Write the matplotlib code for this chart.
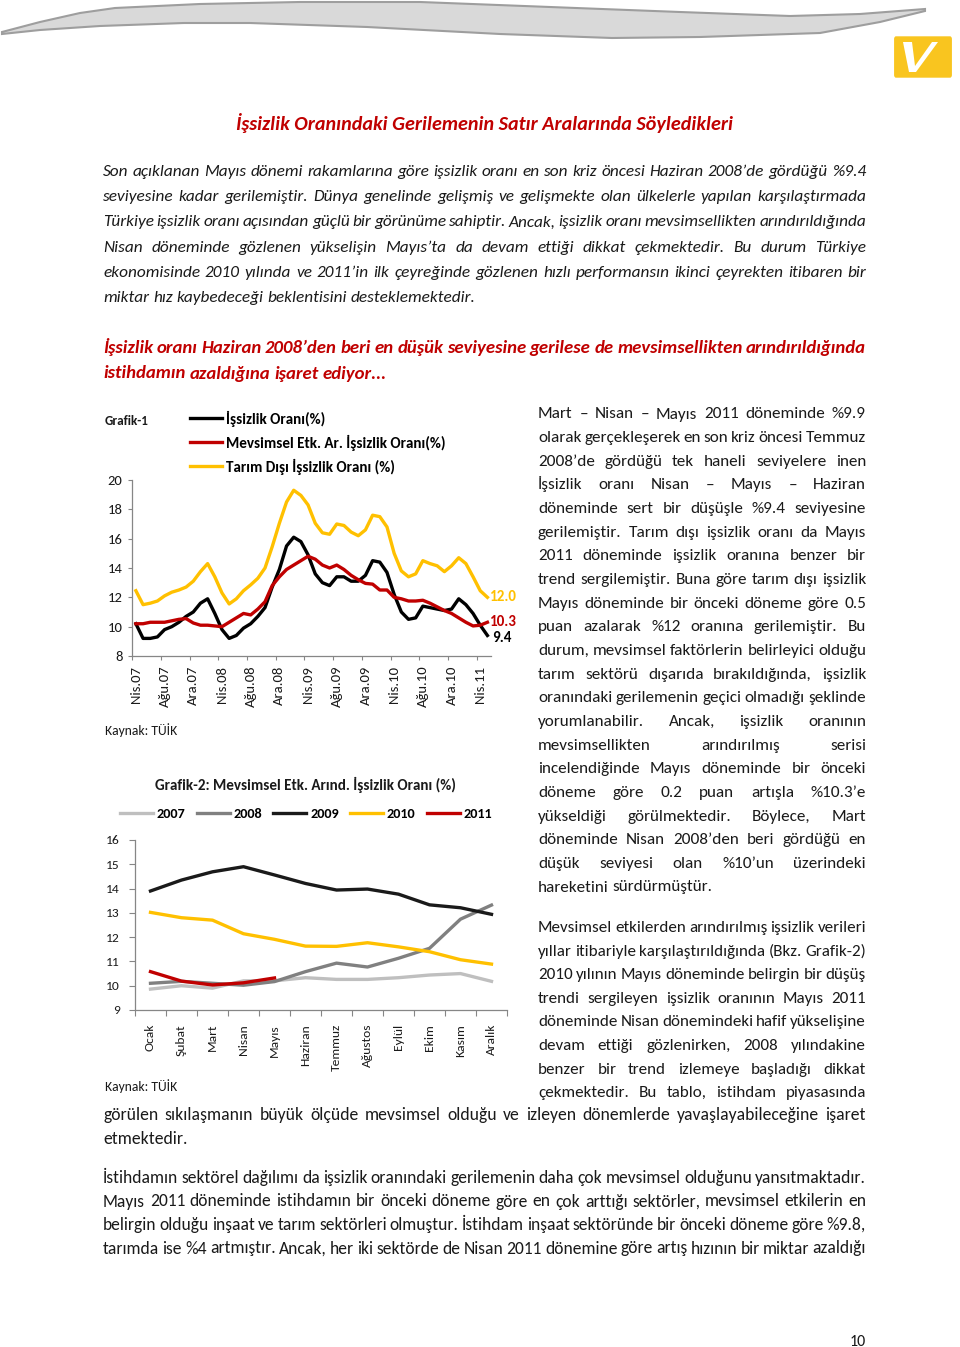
import matplotlib
matplotlib.use("Agg")
import matplotlib.pyplot as plt
import numpy as np
from matplotlib.font_manager import FontProperties, fontManager
from matplotlib.patches import Polygon, FancyBboxPatch

# ---------------- data : Grafik-1 (Nisan 2007 - Mayıs 2011, aylık) ----------------
g1_tick_labels = ['Nis.07', 'Ağu.07', 'Ara.07', 'Nis.08', 'Ağu.08', 'Ara.08', 'Nis.09',
                  'Ağu.09', 'Ara.09', 'Nis.10', 'Ağu.10', 'Ara.10', 'Nis.11']
g1_issizlik = [10.2, 9.2, 9.2, 9.3, 9.8, 10.0, 10.3, 10.7, 11.0, 11.6, 11.9, 10.9,
               9.8, 9.2, 9.4, 9.9, 10.2, 10.7, 11.3, 12.7, 13.9, 15.5, 16.1, 15.8,
               14.9, 13.6, 13.0, 12.8, 13.4, 13.4, 13.1, 13.1, 13.5, 14.5, 14.4, 13.7,
               12.2, 11.0, 10.5, 10.6, 11.4, 11.3, 11.2, 11.1, 11.2, 11.9, 11.5, 10.9,
               10.1, 9.4]
g1_mevsimsel = [10.2, 10.2, 10.3, 10.3, 10.3, 10.4, 10.5, 10.55, 10.25, 10.1, 10.1, 10.05,
                10.0, 10.3, 10.6, 10.9, 10.8, 11.2, 11.7, 12.8, 13.4, 13.9, 14.2, 14.5,
                14.8, 14.6, 14.2, 14.0, 14.2, 13.9, 13.5, 13.2, 12.95, 12.9, 12.5, 12.5,
                12.0, 11.9, 11.75, 11.75, 11.8, 11.6, 11.35, 11.1, 10.9, 10.6, 10.3, 10.05,
                10.1, 10.3]
g1_tarimdisi = [12.45, 11.5, 11.6, 11.75, 12.1, 12.35, 12.5, 12.7, 13.1, 13.75, 14.3, 13.4,
                12.3, 11.55, 11.9, 12.45, 12.85, 13.3, 14.0, 15.45, 17.05, 18.5, 19.3, 18.95,
                18.3, 17.05, 16.4, 16.3, 17.0, 16.9, 16.45, 16.2, 16.6, 17.6, 17.5, 16.8,
                15.0, 13.8, 13.4, 13.6, 14.5, 14.3, 14.15, 13.75, 14.15, 14.7, 14.3, 13.4,
                12.45, 12.0]
g1_series_names = ['İşsizlik Oranı(%)', 'Mevsimsel Etk. Ar. İşsizlik Oranı(%)',
                   'Tarım Dışı İşsizlik Oranı (%)']

# ---------------- data : Grafik-2 ----------------
g2_months = ['Ocak', 'Şubat', 'Mart', 'Nisan', 'Mayıs', 'Haziran', 'Temmuz', 'Ağustos',
             'Eylül', 'Ekim', 'Kasım', 'Aralık']
g2_2007 = [9.86, 10.0, 9.9, 10.2, 10.2, 10.33, 10.26, 10.26, 10.33, 10.44, 10.5, 10.18]
g2_2008 = [10.1, 10.18, 10.1, 10.02, 10.17, 10.58, 10.93, 10.77, 11.13, 11.54, 12.74, 13.32]
g2_2009 = [13.9, 14.35, 14.69, 14.9, 14.56, 14.21, 13.94, 13.98, 13.77, 13.33, 13.21, 12.94]
g2_2010 = [13.02, 12.8, 12.7, 12.14, 11.91, 11.63, 11.62, 11.77, 11.6, 11.4, 11.07, 10.89]
g2_2011 = [10.58, 10.19, 10.03, 10.12, 10.32]
g2_years = ['2007', '2008', '2009', '2010', '2011']

# ---------------- text ----------------
title_text = 'İşsizlik Oranındaki Gerilemenin Satır Aralarında Söyledikleri'
para1 = ['Son açıklanan Mayıs dönemi rakamlarına göre işsizlik oranı en son kriz öncesi Haziran 2008’de gördüğü %9.4',
         'seviyesine kadar gerilemiştir. Dünya genelinde gelişmiş ve gelişmekte olan ülkelerle yapılan karşılaştırmada',
         'Türkiye işsizlik oranı açısından güçlü bir görünüme sahiptir. Ancak, işsizlik oranı mevsimsellikten arındırıldığında',
         'Nisan döneminde gözlenen yükselişin Mayıs’ta da devam ettiği dikkat çekmektedir. Bu durum Türkiye',
         'ekonomisinde 2010 yılında ve 2011’in ilk çeyreğinde gözlenen hızlı performansın ikinci çeyrekten itibaren bir',
         'miktar hız kaybedeceği beklentisini desteklemektedir.']
subtitle = ['İşsizlik oranı Haziran 2008’den beri en düşük seviyesine gerilese de mevsimsellikten arındırıldığında',
            'istihdamın azaldığına işaret ediyor...']
col1 = ['Mart – Nisan – Mayıs 2011 döneminde %9.9',
        'olarak gerçekleşerek en son kriz öncesi Temmuz',
        '2008’de gördüğü tek haneli seviyelere inen',
        'İşsizlik oranı Nisan – Mayıs – Haziran',
        'döneminde sert bir düşüşle %9.4 seviyesine',
        'gerilemiştir. Tarım dışı işsizlik oranı da Mayıs',
        '2011 döneminde işsizlik oranına benzer bir',
        'trend sergilemiştir. Buna göre tarım dışı işsizlik',
        'Mayıs döneminde bir önceki döneme göre 0.5',
        'puan azalarak %12 oranına gerilemiştir. Bu',
        'durum, mevsimsel faktörlerin belirleyici olduğu',
        'tarım sektörü dışarıda bırakıldığında, işsizlik',
        'oranındaki gerilemenin geçici olmadığı şeklinde',
        'yorumlanabilir. Ancak, işsizlik oranının',
        'mevsimsellikten arındırılmış serisi',
        'incelendiğinde Mayıs döneminde bir önceki',
        'döneme göre 0.2 puan artışla %10.3’e',
        'yükseldiği görülmektedir. Böylece, Mart',
        'döneminde Nisan 2008’den beri gördüğü en',
        'düşük seviyesi olan %10’un üzerindeki',
        'hareketini sürdürmüştür.']
col2 = ['Mevsimsel etkilerden arındırılmış işsizlik verileri',
        'yıllar itibariyle karşılaştırıldığında (Bkz. Grafik-2)',
        '2010 yılının Mayıs döneminde belirgin bir düşüş',
        'trendi sergileyen işsizlik oranının Mayıs 2011',
        'döneminde Nisan dönemindeki hafif yükselişine',
        'devam ettiği gözlenirken, 2008 yılındakine',
        'benzer bir trend izlemeye başladığı dikkat',
        'çekmektedir. Bu tablo, istihdam piyasasında']
wide2 = ['görülen sıkılaşmanın büyük ölçüde mevsimsel olduğu ve izleyen dönemlerde yavaşlayabileceğine işaret',
         'etmektedir.']
para3 = ['İstihdamın sektörel dağılımı da işsizlik oranındaki gerilemenin daha çok mevsimsel olduğunu yansıtmaktadır.',
         'Mayıs 2011 döneminde istihdamın bir önceki döneme göre en çok arttığı sektörler, mevsimsel etkilerin en',
         'belirgin olduğu inşaat ve tarım sektörleri olmuştur. İstihdam inşaat sektöründe bir önceki döneme göre %9.8,',
         'tarımda ise %4 artmıştır. Ancak, her iki sektörde de Nisan 2011 dönemine göre artış hızının bir miktar azaldığı']

# ---------------- setup ----------------
W, H = 960, 1347
fig = plt.figure(figsize=(W / 100, H / 100), dpi=100)
fig.patch.set_facecolor('white')
R = fig.canvas.get_renderer()

names = {f.name for f in fontManager.ttflist}
BASE = 'DejaVu Sans'
for cand in ['Carlito', 'Lato']:
    if cand in names:
        BASE = cand
        break
FAM = [BASE, 'DejaVu Sans']
plt.rcParams['font.family'] = FAM

RED = '#C00000'
YEL = '#FFC000'
AXC = '#868686'
TXT = '#1a1a1a'


def fp(size, weight='normal', style='normal'):
    return FontProperties(family=FAM, size=size, weight=weight, style=style)


def tw(s, prop):
    return R.get_text_width_height_descent(s, prop, ismath=False)[0]


def th(s, prop):
    return R.get_text_width_height_descent(s, prop, ismath=False)[1]


def put(x, y, s, prop, color=TXT, ha='left', va='baseline', **kw):
    return fig.text(x / W, 1 - y / H, s, fontproperties=prop, color=color, ha=ha, va=va, **kw)


def fit(s, target, weight='normal', style='normal', base=12.0):
    return base * target / tw(s, fp(base, weight, style))


def block(lines, x0, x1, y0, dy, size, justify, color=TXT, weight='normal', style='normal'):
    p = fp(size, weight, style)
    sp = tw('a b', p) - tw('ab', p)
    scale = 1.0
    for ln, j in zip(lines, justify):
        words = ln.split()
        need = sum(tw(w, p) for w in words) + 0.7 * sp * (len(words) - 1)
        if need > (x1 - x0):
            scale = min(scale, (x1 - x0) / need)
    p = fp(size * scale, weight, style)
    sp = tw('a b', p) - tw('ab', p)
    for i, (ln, j) in enumerate(zip(lines, justify)):
        y = y0 + i * dy
        words = ln.split()
        ws = [tw(w, p) for w in words]
        if not j or len(words) < 2:
            gap = sp
        else:
            gap = (x1 - x0 - sum(ws)) / (len(words) - 1)
        x = x0
        for w, wd in zip(words, ws):
            put(x, y, w, p, color)
            x += wd + gap


# ---------------- decoration: swoosh + logo ----------------
top_edge = [(2, 32), (40, 22), (80, 13), (115, 8), (200, 4), (300, 2), (420, 2), (550, 7),
            (680, 12), (790, 16), (860, 14), (925, 9)]
bot_edge = [(925, 11), (880, 22), (820, 33), (700, 37), (612, 38), (500, 34), (367, 27),
            (250, 23), (184, 23), (100, 26), (40, 30), (2, 34)]
pts = [(x / W, 1 - y / H) for x, y in top_edge + bot_edge]
fig.add_artist(Polygon(pts, closed=True, transform=fig.transFigure, facecolor='#D9D9D9',
                       edgecolor='#9E9E9E', linewidth=1.5))
fig.add_artist(FancyBboxPatch((896 / W, 1 - 75 / H), 54 / W, 36 / H, transform=fig.transFigure,
                              boxstyle='round,pad=0.002', facecolor='#F9C51F', edgecolor='none'))
logo_v = [(903, 42), (912, 42), (915, 66), (932, 42), (938, 42), (916, 72), (909, 72)]
fig.add_artist(Polygon([(x / W, 1 - y / H) for x, y in logo_v], closed=True,
                       transform=fig.transFigure, facecolor='white', edgecolor='none'))

# ---------------- texts ----------------
put(484.5, 130, title_text, fp(fit(title_text, 497, 'bold', 'italic'), 'bold', 'italic'), RED, ha='center')
block(para1, 103, 866, 176, 25.2, 12.7, [True] * 5 + [False], TXT, style='italic')
block(subtitle, 103, 866, 353, 25.5, 13.5, [True, False], RED, weight='bold', style='italic')
block(col1, 538, 866, 418.5, 23.65, 12.7, [True] * 20 + [False], TXT)
block(col2, 538, 866, 932, 23.6, 12.7, [True] * 8, TXT)
block(wide2, 103, 866, 1120, 23.5, 12.7, [True, False], TXT)
block(para3, 103, 866, 1183, 23.5, 12.7, [True] * 4, TXT)
put(858, 1346, '10', fp(11.5), TXT, ha='center')

# ---------------- Grafik-1 ----------------
ax1 = fig.add_axes([132.3 / W, 1 - 656 / H, (491 - 132.3) / W, 176 / H])
x1 = np.arange(len(g1_issizlik))
ax1.plot(x1, g1_issizlik, color='black', lw=2.4, label=g1_series_names[0], solid_joinstyle='round')
ax1.plot(x1, g1_mevsimsel, color=RED, lw=2.4, label=g1_series_names[1], solid_joinstyle='round')
ax1.plot(x1, g1_tarimdisi, color=YEL, lw=2.4, label=g1_series_names[2], solid_joinstyle='round')
ax1.set_xlim(-0.5, len(x1) - 0.5)
ax1.set_ylim(8, 20)
ax1.set_yticks(np.arange(8, 21, 2))
ax1.set_xticks(np.arange(0, len(x1), 4))
ax1.set_xticklabels(g1_tick_labels, rotation=90)
ax1.set_xticks(np.arange(-0.5, len(x1) - 0.5, 4), minor=True)
tick1 = fp(min(fit('Nis.07', 41), 10.5))
for lab in ax1.get_xticklabels() + ax1.get_yticklabels():
    lab.set_fontproperties(tick1)
    lab.set_color(TXT)
ax1.tick_params(axis='x', which='major', length=0, pad=7)
ax1.tick_params(axis='x', which='minor', length=3, color=AXC, width=0.8)
ax1.tick_params(axis='y', length=3, color=AXC, width=0.8, pad=4)
for s in ['top', 'right']:
    ax1.spines[s].set_visible(False)
for s in ['left', 'bottom']:
    ax1.spines[s].set_color(AXC)
    ax1.spines[s].set_linewidth(0.9)
end_vals = [g1_tarimdisi[-1], g1_mevsimsel[-1], g1_issizlik[-1]]
end_cols = [YEL, RED, 'black']
end_off = [0, 0, -3]
end_dx = [3, 3, 5]
end_prop = fp(fit('12.0', 27, 'bold'), 'bold')
for v, c, o, dx in zip(end_vals, end_cols, end_off, end_dx):
    ax1.annotate(f'{v:.1f}', xy=(x1[-1], v), xytext=(dx, o), textcoords='offset pixels',
                 ha='left', va='center', color=c, fontproperties=end_prop,
                 annotation_clip=False)
leg_size = fit(g1_series_names[1], 219, 'bold')
lp = fp(leg_size, 'bold')
lpx = leg_size * 100 / 72
row_h = th('lp', lp)
leg1 = ax1.legend(loc='center left', bbox_to_anchor=(190 / W, 1 - 442.5 / H),
                  bbox_transform=fig.transFigure, frameon=False, prop=lp,
                  handlelength=32 / lpx, handletextpad=4 / lpx,
                  labelspacing=max(0.0, (24.5 - row_h - 2.6) / lpx),
                  borderpad=0, borderaxespad=0)
put(105, 425, 'Grafik-1', fp(fit('Grafik-1', 44, 'bold'), 'bold'), TXT)
put(105, 735, 'Kaynak: TÜİK', fp(fit('Kaynak: TÜİK', 72)), TXT)

# ---------------- Grafik-2 ----------------
ax2 = fig.add_axes([135 / W, 1 - 1010 / H, (507 - 135) / W, 170 / H])
x2 = np.arange(len(g2_months))
cols2 = ['#BFBFBF', '#808080', '#1a1a1a', YEL, RED]
series2 = [g2_2007, g2_2008, g2_2009, g2_2010, g2_2011]
for ser, c, nm in zip(series2, cols2, g2_years):
    ax2.plot(np.arange(len(ser)), ser, color=c, lw=2.4, label=nm, solid_joinstyle='round')
ax2.set_xlim(-0.5, len(x2) - 0.5)
ax2.set_ylim(9, 16)
ax2.set_yticks(np.arange(9, 17, 1))
ax2.set_xticks(x2)
ax2.set_xticklabels(g2_months, rotation=90)
ax2.set_xticks(np.arange(-0.5, len(x2), 1), minor=True)
tick2 = fp(min(fit('Ocak', 27), 10.5))
for lab in ax2.get_xticklabels() + ax2.get_yticklabels():
    lab.set_fontproperties(tick2)
    lab.set_color(TXT)
ax2.tick_params(axis='x', which='major', length=0, pad=10)
ax2.tick_params(axis='x', which='minor', length=4, color=AXC, width=0.8)
ax2.tick_params(axis='y', length=4, color=AXC, width=0.8, pad=7)
for s in ['top', 'right']:
    ax2.spines[s].set_visible(False)
for s in ['left', 'bottom']:
    ax2.spines[s].set_color(AXC)
    ax2.spines[s].set_linewidth(0.9)
l2size = fit('2007', 29, 'bold')
l2px = l2size * 100 / 72
ax2.legend(loc='center left', bbox_to_anchor=(120 / W, 1 - 814 / H), bbox_transform=fig.transFigure,
           ncol=5, frameon=False, prop=fp(l2size, 'bold'), handlelength=33 / l2px,
           handletextpad=4 / l2px, columnspacing=11 / l2px, borderpad=0, borderaxespad=0)
g2_title = 'Grafik-2: Mevsimsel Etk. Arınd. İşsizlik Oranı (%)'
put(155, 790, g2_title, fp(fit(g2_title, 300, 'bold'), 'bold'), TXT)
put(105, 1091, 'Kaynak: TÜİK', fp(fit('Kaynak: TÜİK', 72)), TXT)

fig.savefig('out.png', dpi=100, facecolor='white')
